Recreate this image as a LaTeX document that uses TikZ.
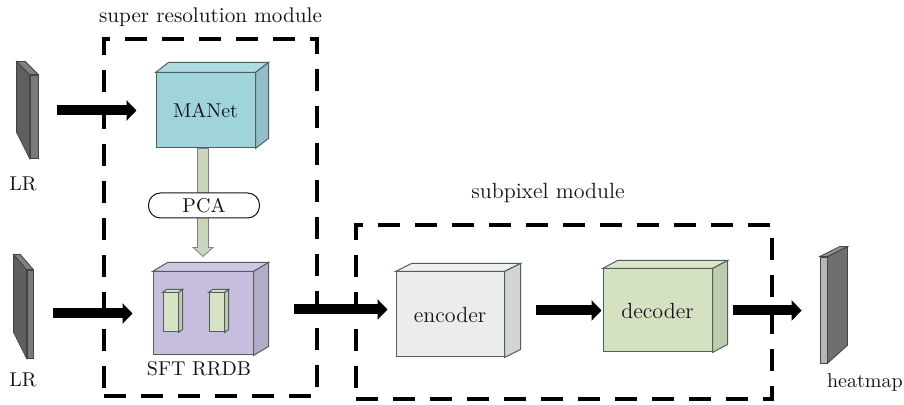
\documentclass[tikz,border=0pt]{standalone}
\usepackage{tikz}
\usetikzlibrary{positioning,calc,arrows.meta}
\definecolor{manetBlue}{RGB}{160,212,221}
\definecolor{sftPurple}{RGB}{199,190,221}
\definecolor{encGray}{RGB}{234,237,234}
\definecolor{decGreen}{RGB}{212,226,193}
\definecolor{innerGreen}{RGB}{214,227,196}
\definecolor{pcaGreen}{RGB}{202,214,188}
\definecolor{edgeGray}{RGB}{80,95,90}
\definecolor{slabDark}{RGB}{95,95,98}
\definecolor{slabMid}{RGB}{122,122,125}
\definecolor{slabLight}{RGB}{182,182,184}
\definecolor{textDark}{RGB}{20,20,30}

% top and side face of a box drawn behind its front node
\newcommand{\cubefaces}[4]{%
	\filldraw[cubeface, fill=#4!85!white] (#1.north west) -- ++(#2,-#3) -- ($(#1.north east)+(#2,-#3)$) -- (#1.north east) -- cycle;
	\filldraw[cubeface, fill=#4!90!black] (#1.north east) -- ++(#2,-#3) -- ($(#1.south east)+(#2,-#3)$) -- (#1.south east) -- cycle;
}

\begin{document}
\begin{tikzpicture}[%
	x=0.5pt, y=-0.5pt,
	every node/.style={
		font=\fontsize{10}{12}\selectfont,
		text=textDark,
	},
	cube/.style={draw=edgeGray, line width=0.5pt, inner sep=0pt},
	cubeface/.style={draw=edgeGray, line width=0.5pt},
	slab/.style={draw=slabDark!70!black, line width=0.4pt, inner sep=0pt},
	modulebox/.style={draw=black, line width=1.6pt, dash pattern=on 11pt off 7.5pt, inner sep=0pt},
	flow/.style={line width=5pt, -{Triangle[width=10pt,length=5pt]}},
	]
	\useasboundingbox (0,0) rectangle (904,405);
	
	% draw module boxes
	\node[modulebox, minimum width=106.5pt, minimum height=178.5pt] (srmod) at (210.5,217.5) {};
	\node[above=2pt of srmod, font=\fontsize{10.6}{12}\selectfont] (srlabel) {super resolution module};
	
	\node[modulebox, minimum width=208pt, minimum height=87pt] (spmod) at (564,312) {};
	\node[font=\fontsize{11}{13}\selectfont] (splabel) at (548,193) {subpixel module};
	
	% draw input slabs
	\node[slab, fill=slabMid, minimum width=4pt, minimum height=41.5pt] (lrone) at (34,116.5) {};
	\filldraw[slab, fill=slabDark] (lrone.north west) -- ++(-13,-13) -- ($(lrone.south west)+(-13,-26)$) -- (lrone.south west) -- cycle;
	\filldraw[slab, fill=slabDark!80!white] (lrone.north west) -- ++(-13,-13) -- ($(lrone.north east)+(-13,-13)$) -- (lrone.north east) -- cycle;
	\node (lronelabel) at (23,184) {LR};
	
	\node[slab, fill=slabMid, minimum width=3pt, minimum height=44pt] (lrtwo) at (30,314) {};
	\filldraw[slab, fill=slabDark] (lrtwo.north west) -- ++(-13,-15) -- ($(lrtwo.south west)+(-13,-26)$) -- (lrtwo.south west) -- cycle;
	\filldraw[slab, fill=slabDark!80!white] (lrtwo.north west) -- ++(-13,-15) -- ($(lrtwo.north east)+(-13,-15)$) -- (lrtwo.north east) -- cycle;
	\node (lrtwolabel) at (23,380) {LR};
	
	% draw output slab
	\node[slab, fill=slabLight, minimum width=3.5pt, minimum height=53pt] (heatmap) at (823.5,310) {};
	\filldraw[slab, fill=slabDark!90!white] (heatmap.north east) -- ++(20,-10) -- ($(heatmap.south east)+(20,-18)$) -- (heatmap.south east) -- cycle;
	\filldraw[slab, fill=slabDark!70!white] (heatmap.north west) -- ++(20,-10) -- ($(heatmap.north east)+(20,-10)$) -- (heatmap.north east) -- cycle;
	\node[anchor=base west] (heatlabel) at (820,387) {heatmap};
	
	% draw network boxes
	\node[cube, fill=manetBlue, minimum width=49.5pt, minimum height=37.5pt, text depth=-3pt] (manet) at (205.5,110.5) {MANet};
	\cubefaces{manet}{13}{10}{manetBlue}
	
	\node[cube, fill=sftPurple, minimum width=50pt, minimum height=41.5pt] (sft) at (203,313.5) {};
	\cubefaces{sft}{15}{9}{sftPurple}
	\node[cube, fill=innerGreen, minimum width=7.5pt, minimum height=19.5pt] (sftl) at (170.5,312.5) {};
	\cubefaces{sftl}{4}{3}{innerGreen}
	\node[cube, fill=innerGreen, minimum width=7.5pt, minimum height=19.5pt] (sftr) at (216.5,312.5) {};
	\cubefaces{sftr}{4}{3}{innerGreen}
	\node[anchor=base] (sftlabel) at (199,375) {SFT RRDB};
	
	\node[cube, fill=encGray, minimum width=54pt, minimum height=42.5pt, font=\fontsize{11}{13}\selectfont] (encoder) at (450,314.5) {encoder};
	\cubefaces{encoder}{16}{8}{encGray}
	
	\node[cube, fill=decGreen, minimum width=54.5pt, minimum height=41.5pt, font=\fontsize{11}{13}\selectfont] (decoder) at (657.5,310.5) {decoder};
	\cubefaces{decoder}{15}{8}{decGreen}
	
	% draw PCA arrow
	\coordinate (pcatop) at (sft.north |- manet.south);
	\coordinate (pcatip) at ($(sft.north)+(0,-15)$);
	\filldraw[draw=gray, line width=0.4pt, fill=pcaGreen] ($(pcatop)+(-5.5,0)$) -- ($(pcatip)+(-5.5,-9)$) -- ($(pcatip)+(-10,-9)$) -- (pcatip) -- ($(pcatip)+(10,-9)$) -- ($(pcatip)+(5.5,-9)$) -- ($(pcatop)+(5.5,0)$) -- cycle;
	\node[draw=textDark, line width=0.5pt, fill=white, rounded corners=6pt, minimum width=55.5pt, minimum height=12.5pt, inner sep=0pt] (pca) at (204,205.5) {PCA};
	
	% draw flow arrows
	\draw[flow, shorten <=9.5pt, shorten >=9.5pt] (lrone.east |- manet.west) -- (manet.west);
	\draw[flow, shorten <=10pt, shorten >=10pt] (lrtwo.east |- sft.west) -- (sft.west);
	\draw[flow, shorten <=20pt, shorten >=4pt] ([yshift=2pt]sft.east) -- ([yshift=2pt]sft.east -| encoder.west);
	\draw[flow, shorten <=15.5pt, shorten >=0.5pt] ([yshift=2pt]encoder.east) -- ([yshift=2pt]encoder.east -| decoder.west);
	\draw[flow, shorten <=10pt, shorten >=9pt] (decoder.east) -- (decoder.east -| heatmap.west);
\end{tikzpicture}
\end{document}
